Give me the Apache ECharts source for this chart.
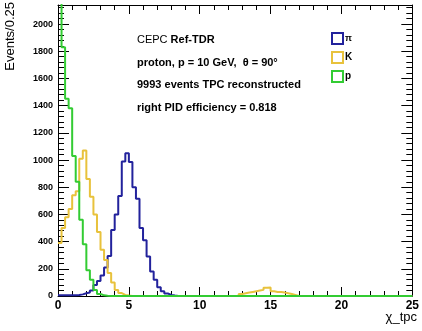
<!DOCTYPE html>
<html><head><meta charset="utf-8">
<script src="https://cdn.jsdelivr.net/npm/echarts@6/dist/echarts.min.js"></script>
<style>html,body{margin:0;padding:0;background:#fff}#c{width:422px;height:331px}</style>
</head><body><div id="c"></div>
<script>
const binWidth = 0.25;
const nBins = 100;
const xTicks = [0, 5, 10, 15, 20, 25];
const yTicks = [0, 200, 400, 600, 800, 1000, 1200, 1400, 1600, 1800, 2000];
const seriesNames = ['π', 'K', 'p'];
// pion hypothesis, bins from 0
const piValues = [5,5,5,5,5,8,12,20,25,40,80,110,150,210,295,485,600,735,990,1050,985,800,715,500,410,290,180,120,65,35,18,8,3];
// kaon hypothesis, bins from 0
const kValues = [390,500,580,640,740,770,1010,1070,860,730,600,470,340,265,170,100,45,22,8,3];
// kaon small bump, starting at bin 51
const kBumpStart = 51;
const kBumpValues = [15,20,25,30,35,40,45,60,62,35,30,30,25,20,15,8];
// proton hypothesis, bins from 0
const pValues = [2300,1830,1450,1380,1030,840,560,380,190,120,45,15,5,2];

function fullBins(parts) {
  const arr = new Array(nBins).fill(0);
  parts.forEach(([start, vals]) => vals.forEach((v, i) => { arr[start + i] = v; }));
  return arr;
}
function steps(arr) {
  const pts = arr.map((v, i) => [i * binWidth, v]);
  pts.push([nBins * binWidth, arr[nBins - 1]]);
  return pts;
}
const piData = steps(fullBins([[0, piValues]]));
const kData = steps(fullBins([[0, kValues], [kBumpStart, kBumpValues]]));
const pData = steps(fullBins([[0, pValues]]));

const F = 'Liberation Sans';
const cBlue = '#22229c', cYellow = '#e8c23c', cGreen = '#33cc33';
const chart = echarts.init(document.getElementById('c'), null, {renderer: 'canvas'});
const yMax = 2140;
const xAxisCommon = {
  type: 'value', min: 0, max: 25, interval: 5,
  axisLine: {show: true, onZero: false, lineStyle: {color: '#000', width: 1}},
  axisTick: {show: true, inside: true, length: 9, lineStyle: {color: '#000', width: 1}},
  minorTick: {show: true, splitNumber: 5, length: 5, lineStyle: {color: '#000', width: 1}},
  splitLine: {show: false}
};
const yAxisCommon = {
  type: 'value', min: 0, max: yMax, interval: 200,
  axisLine: {show: true, onZero: false, lineStyle: {color: '#000', width: 1}},
  axisTick: {show: true, inside: true, length: 11, lineStyle: {color: '#000', width: 1}},
  minorTick: {show: true, splitNumber: 5, length: 6, lineStyle: {color: '#000', width: 1}},
  splitLine: {show: false}
};
chart.setOption({
  animation: false,
  backgroundColor: '#fff',
  grid: {left: 58, right: 4, top: 5, bottom: 35, containLabel: false},
  xAxis: [
    Object.assign({}, xAxisCommon, {position: 'bottom',
      axisLabel: {show: true, margin: 4, fontFamily: F, fontWeight: 'bold', fontSize: 12, color: '#000',
        formatter: v => xTicks.includes(v) ? String(v) : ''}}),
    Object.assign({}, xAxisCommon, {position: 'top', axisLabel: {show: false}})
  ],
  yAxis: [
    Object.assign({}, yAxisCommon, {position: 'left',
      axisLabel: {show: true, margin: 5, fontFamily: F, fontWeight: 'bold', fontSize: 9, color: '#000', showMaxLabel: false,
        formatter: v => yTicks.includes(v) ? String(v) : ''}}),
    Object.assign({}, yAxisCommon, {position: 'right', axisLabel: {show: false}})
  ],
  legend: {
    orient: 'vertical', left: 331, top: 32, padding: 0, itemWidth: 11, itemHeight: 11, itemGap: 6,
    icon: 'rect', selectedMode: false,
    textStyle: {fontFamily: F, fontWeight: 'bold', fontSize: 10, color: '#000', padding: [0, 0, 0, -3]},
    data: [
      {name: 'π', textStyle: {fontSize: 9}, itemStyle: {color: 'rgba(255,255,255,0)', borderColor: cBlue, borderWidth: 2}, lineStyle: {opacity: 0}},
      {name: 'K', itemStyle: {color: 'rgba(255,255,255,0)', borderColor: cYellow, borderWidth: 2}, lineStyle: {opacity: 0}},
      {name: 'p', itemStyle: {color: 'rgba(255,255,255,0)', borderColor: cGreen, borderWidth: 2}, lineStyle: {opacity: 0}}
    ]
  },
  series: [
    {name: seriesNames[0], type: 'line', step: 'end', data: piData, showSymbol: false, symbol: 'none', clip: true,
      lineStyle: {color: cBlue, width: 2}, itemStyle: {color: cBlue}},
    {name: seriesNames[1], type: 'line', step: 'end', data: kData, showSymbol: false, symbol: 'none', clip: true,
      lineStyle: {color: cYellow, width: 2}, itemStyle: {color: cYellow}},
    {name: seriesNames[2], type: 'line', step: 'end', data: pData, showSymbol: false, symbol: 'none', clip: true,
      lineStyle: {color: cGreen, width: 2}, itemStyle: {color: cGreen}}
  ],
  graphic: [
    {type: 'text', left: 137, top: 34, style: {text: '{n|CEPC }{b|Ref-TDR}', rich: {
      n: {fontFamily: F, fontSize: 11, fill: '#000'}, b: {fontFamily: F, fontSize: 11, fontWeight: 'bold', fill: '#000'}}}},
    {type: 'text', left: 137, top: 57, style: {text: 'proton, p = 10 GeV,  θ = 90°', font: 'bold 11px "Liberation Sans"', fill: '#000'}},
    {type: 'text', left: 137, top: 79, style: {text: '9993 events TPC reconstructed', font: 'bold 11px "Liberation Sans"', fill: '#000'}},
    {type: 'text', left: 137, top: 102, style: {text: 'right PID efficiency = 0.818', font: 'bold 11px "Liberation Sans"', fill: '#000'}},
    {type: 'text', right: 5, top: 311, style: {text: 'χ_tpc', font: '13px "Liberation Sans"', fill: '#000'}},
    {type: 'text', x: 4, y: 2, rotation: Math.PI / 2, style: {text: 'Events/0.25', font: '13px "Liberation Sans"', fill: '#000', align: 'right', verticalAlign: 'top'}}
  ]
});
</script></body></html>
